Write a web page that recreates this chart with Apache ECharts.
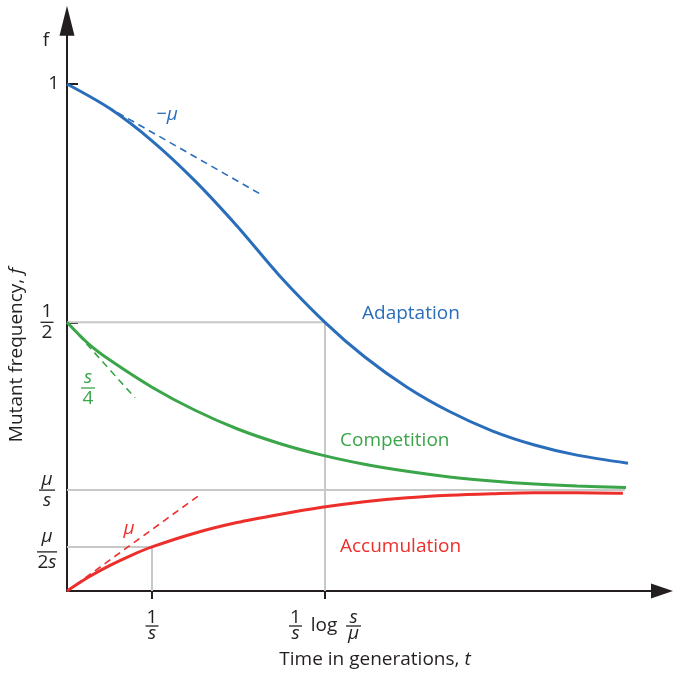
<!DOCTYPE html>
<html>
<head>
<meta charset="utf-8">
<script src="https://cdn.jsdelivr.net/npm/echarts@6/dist/echarts.min.js"></script>
<style>
  html, body { margin: 0; padding: 0; background: #fff; }
  #chart { width: 674px; height: 680px; }
</style>
</head>
<body>
<div id="chart"></div>
<script>
// Time axis measured in units of 1/s generations; frequency normalised so f = 1 at the start of adaptation.
const xTickValues = [1, 3.035];              // 1/s , (1/s) log(s/mu)
const yTickValues = [0.087, 0.199, 0.53, 1]; // mu/2s , mu/s , 1/2 , 1

const adaptation = [
  [0, 1.0], [0.5, 0.952], [1.0, 0.888], [1.5, 0.81], [2.0, 0.72], [2.5, 0.622],
  [3.035, 0.53], [3.5, 0.462], [4.0, 0.402], [4.5, 0.354], [5.0, 0.316], [5.5, 0.288],
  [6.0, 0.268], [6.6, 0.252]
];
const competition = [
  [0, 0.53], [0.25, 0.488], [0.5, 0.456], [1.0, 0.402], [1.5, 0.357], [2.0, 0.32], [2.5, 0.291],
  [3.0, 0.268], [3.5, 0.25], [4.0, 0.236], [4.5, 0.225], [5.0, 0.217], [5.5, 0.211],
  [6.0, 0.207], [6.576, 0.204]
];
const accumulation = [
  [0, 0], [0.25, 0.027], [0.5, 0.05], [0.75, 0.07], [1.0, 0.087], [1.5, 0.114], [2.0, 0.135],
  [2.5, 0.151], [3.0, 0.165], [3.5, 0.176], [4.0, 0.184], [4.5, 0.189], [5.0, 0.192],
  [5.5, 0.194], [6.0, 0.194], [6.54, 0.193]
];

// initial slopes: -mu, -s/4, mu
const adaptationTangent = [[0.35, 0.967], [2.294, 0.781]];
const competitionTangent = [[0.04, 0.523], [0.8, 0.381]];
const accumulationTangent = [[0.1, 0.012], [1.541, 0.187]];

// guide lines
const halfGuide = [[0, 0.53], [3.035, 0.53], [3.035, 0]];
const quarterGuide = [[0, 0.087], [1, 0.087], [1, 0]];
const plateauGuide = [[0, 0.199], [6.565, 0.199]];

const FONT = 'Open Sans';
const FS = 19;
const INK = '#231f20';
const BLUE = '#2a6ebb';
const GREEN = '#3ba54a';
const RED = '#ed2f2c';
const GRAY = '#c8c8c8';

const near = (a, b) => Math.abs(a - b) < 1e-6;

const yRich = {
  one: { fontFamily: FONT, fontSize: FS, color: INK, width: 24, align: 'right' },
  n: { fontFamily: FONT, fontSize: FS, color: INK, lineHeight: 17, align: 'center' },
  ni: { fontFamily: FONT, fontSize: FS, fontStyle: 'italic', color: INK, lineHeight: 17, align: 'center' },
  nt: { fontFamily: FONT, fontSize: FS, fontStyle: 'italic', color: INK, lineHeight: 27, align: 'center' },
  d: { fontFamily: FONT, fontSize: FS, color: INK, lineHeight: 17, align: 'center' },
  di: { fontFamily: FONT, fontSize: FS, fontStyle: 'italic', color: INK, lineHeight: 17, align: 'center' },
  b12: { width: 13, height: 1.3, lineHeight: 4, backgroundColor: INK },
  b15: { width: 16, height: 1.3, lineHeight: 4, backgroundColor: INK },
  b18: { width: 20, height: 1.3, lineHeight: 4, backgroundColor: INK }
};

function yLabel(v) {
  if (near(v, 1)) return '{one|1}';
  if (near(v, 0.53)) return '{n|1}\n{b12| }\n{d|2}';
  if (near(v, 0.199)) return '{ni|μ}\n{b15| }\n{di|s}';
  if (near(v, 0.087)) return '{nt|μ}\n{b18| }\n{d|2}{di|s}';
  return '';
}

const xRich = {
  n: { fontFamily: FONT, fontSize: FS, color: INK, lineHeight: 12, width: 13, align: 'center' },
  ni: { fontFamily: FONT, fontSize: FS, fontStyle: 'italic', color: INK, lineHeight: 12, width: 15, align: 'center' },
  di: { fontFamily: FONT, fontSize: FS, fontStyle: 'italic', color: INK, lineHeight: 12, width: 13, align: 'center' },
  dm: { fontFamily: FONT, fontSize: FS, fontStyle: 'italic', color: INK, lineHeight: 12, width: 15, align: 'center' },
  gap: { width: 44, lineHeight: 12 },
  sp: { width: 5, lineHeight: 4 },
  lg: { fontFamily: FONT, fontSize: FS, color: INK, lineHeight: 4, width: 34, align: 'center' },
  b12: { width: 13, height: 1.3, lineHeight: 4, backgroundColor: INK },
  b14: { width: 15, height: 1.3, lineHeight: 4, backgroundColor: INK }
};

function xLabel(v) {
  if (near(v, 1)) return '{n|1}\n{b12| }\n{di|s}';
  if (near(v, 3.035)) return '{n|1}{gap| }{ni|s}\n{b12| }{sp| }{lg|log}{sp| }{b14| }\n{di|s}{gap| }{dm|μ}';
  return '';
}

const axisArrowLine = (size) => ({
  show: true,
  symbol: ['none', 'triangle'],
  symbolSize: size,
  lineStyle: { color: INK, width: 2 }
});

function curve(name, data, color) {
  return {
    name, type: 'line', data, smooth: 0.3, showSymbol: false, silent: true, z: 5,
    lineStyle: { color, width: 3 }
  };
}
function tangent(data, color) {
  return {
    type: 'line', data, showSymbol: false, silent: true, z: 4,
    lineStyle: { color, width: 1.6, type: [7, 5] }
  };
}
function guide(data) {
  return {
    type: 'line', data, showSymbol: false, silent: true, z: 1,
    lineStyle: { color: GRAY, width: 2 }
  };
}

const textStyleBase = { fontFamily: FONT, fontSize: FS };

const chart = echarts.init(document.getElementById('chart'), null, { renderer: 'canvas' });
chart.setOption({
  backgroundColor: '#fff',
  animation: false,
  grid: { left: 67, right: 12, top: 20.625, bottom: 89, containLabel: false },
  xAxis: [
    {
      type: 'value', min: 0, max: 7,
      axisLine: axisArrowLine([15, 22]),
      axisTick: { show: true, customValues: xTickValues, length: 8, lineStyle: { color: INK, width: 2 } },
      axisLabel: { show: true, customValues: xTickValues, formatter: xLabel, rich: xRich, margin: 21 },
      splitLine: { show: false }
    },
    {
      type: 'value', min: 0, max: 7, position: 'bottom', offset: 0,
      axisLine: { show: false },
      axisTick: { show: true, inside: true, customValues: xTickValues, length: 8, lineStyle: { color: INK, width: 2 } },
      axisLabel: { show: false },
      splitLine: { show: false }
    }
  ],
  yAxis: {
    type: 'value', min: 0, max: 1.125,
    axisLine: axisArrowLine([15, 30]),
    axisTick: { show: true, inside: true, customValues: yTickValues, length: 11, lineStyle: { color: INK, width: 2 } },
    axisLabel: { show: true, customValues: yTickValues, formatter: yLabel, rich: yRich, align: 'center', margin: 20 },
    splitLine: { show: false }
  },
  series: [
    guide(halfGuide),
    guide(quarterGuide),
    guide(plateauGuide),
    tangent(adaptationTangent, BLUE),
    tangent(competitionTangent, GREEN),
    tangent(accumulationTangent, RED),
    curve('Adaptation', adaptation, BLUE),
    curve('Competition', competition, GREEN),
    curve('Accumulation', accumulation, RED)
  ],
  graphic: [
    { type: 'text', x: 46, y: 41, style: Object.assign({ text: 'f', fill: INK, align: 'center', verticalAlign: 'middle' }, textStyleBase) },
    {
      type: 'text', x: 17, y: 355, rotation: Math.PI / 2,
      style: Object.assign({
        text: 'Mutant frequency, {i|f}', fill: INK, align: 'center', verticalAlign: 'middle',
        rich: { i: { fontFamily: FONT, fontSize: FS, fontStyle: 'italic', fill: INK } }
      }, textStyleBase)
    },
    {
      type: 'text', x: 375, y: 660,
      style: Object.assign({
        text: 'Time in generations, {i|t}', fill: INK, align: 'center', verticalAlign: 'middle',
        rich: { i: { fontFamily: FONT, fontSize: FS, fontStyle: 'italic', fill: INK } }
      }, textStyleBase)
    },
    { type: 'text', x: 362, y: 314, style: Object.assign({ text: 'Adaptation', fill: BLUE, align: 'left', verticalAlign: 'middle' }, textStyleBase) },
    { type: 'text', x: 340, y: 441, style: Object.assign({ text: 'Competition', fill: GREEN, align: 'left', verticalAlign: 'middle' }, textStyleBase) },
    { type: 'text', x: 340, y: 547, style: Object.assign({ text: 'Accumulation', fill: RED, align: 'left', verticalAlign: 'middle' }, textStyleBase) },
    { type: 'text', x: 167, y: 115, style: Object.assign({ text: '−μ', fill: BLUE, align: 'center', verticalAlign: 'middle', fontStyle: 'italic' }, textStyleBase) },
    { type: 'text', x: 129, y: 529, style: Object.assign({ text: 'μ', fill: RED, align: 'center', verticalAlign: 'middle', fontStyle: 'italic' }, textStyleBase) },
    {
      type: 'text', x: 88, y: 388,
      style: Object.assign({
        text: '{n|s}\n{b| }\n{d|4}', fill: GREEN, align: 'center', verticalAlign: 'middle',
        rich: {
          n: { fontFamily: FONT, fontSize: FS, fontStyle: 'italic', fill: GREEN, lineHeight: 17, align: 'center' },
          b: { width: 14, height: 1.3, lineHeight: 4, backgroundColor: GREEN },
          d: { fontFamily: FONT, fontSize: FS, fill: GREEN, lineHeight: 17, align: 'center' }
        }
      }, textStyleBase)
    }
  ]
});
</script>
</body>
</html>
